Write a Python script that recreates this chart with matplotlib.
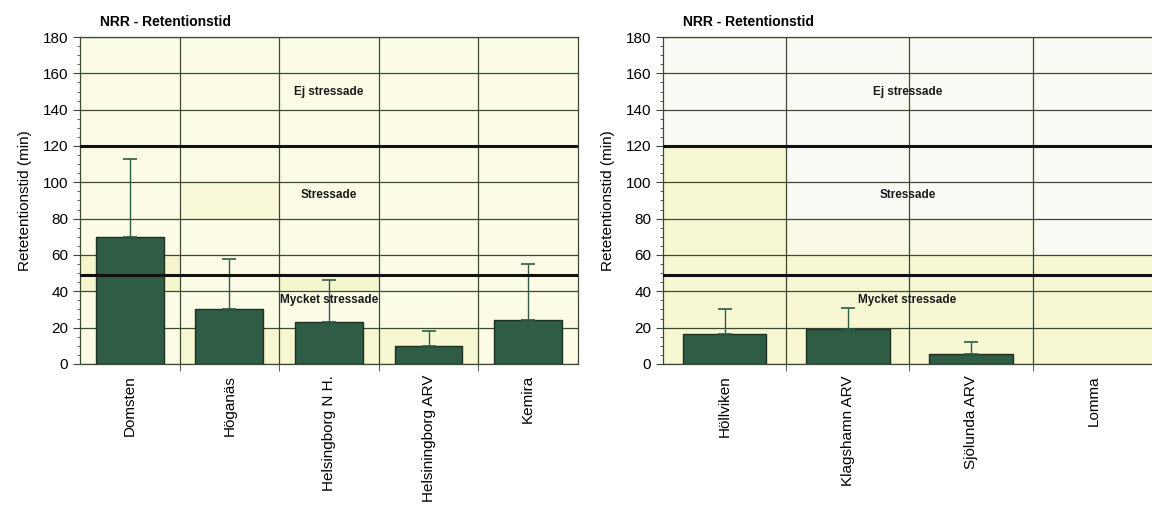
import matplotlib.pyplot as plt
from matplotlib.ticker import MultipleLocator

# Left panel
left_sites = ['Domsten', 'Höganäs', 'Helsingborg N H.', 'Helsiningborg ARV', 'Kemira']
left_values = [70, 30, 23, 10, 24]
left_err = [43, 28, 23, 8, 31]

# Right panel (Lomma has no value)
right_sites = ['Höllviken', 'Klagshamn ARV', 'Sjölunda ARV', 'Lomma']
right_values = [16.5, 19, 5.5, 0]
right_err = [13.5, 12, 6.5, 0]

# Limits between classes (min)
limits = [120, 49]
zones = [(150, 'Ej stressade'), (93, 'Stressade'), (35, 'Mycket stressade')]

bar_color = '#2E5C45'
grid_color = '#3A4A30'

plt.rcParams['font.family'] = ['Liberation Sans', 'DejaVu Sans']

fig = plt.figure(figsize=(11.52, 5.09), dpi=100)
ax1 = fig.add_axes([0.0694, 0.2849, 0.4323, 0.6424])
ax2 = fig.add_axes([0.5755, 0.2849, 0.4245, 0.6424])


def draw_panel(ax, sites, values, err, xmax, backgrounds):
    n = len(sites)
    x = list(range(n))
    for (x0, x1, y0, y1, c) in backgrounds:
        ax.fill_between([x0, x1], y0, y1, color=c, lw=0, zorder=0)
    bx = [i for i in x if values[i] > 0]
    ax.bar(bx, [values[i] for i in bx], width=0.68, color=bar_color,
           edgecolor='#1E2E22', linewidth=1.0, zorder=3)
    ex = [i for i in x if err[i] > 0]
    ax.errorbar(ex, [values[i] for i in ex], yerr=[[0] * len(ex), [err[i] for i in ex]],
                fmt='none', ecolor='#2E5C45', elinewidth=1.0, capsize=5, capthick=1.2,
                zorder=4)
    for lim in limits:
        ax.axhline(lim, color='#111111', lw=2.2, zorder=5)
    ax.set_xlim(-0.5, xmax)
    ax.set_ylim(0, 180)
    ax.yaxis.set_major_locator(MultipleLocator(20))
    ax.yaxis.set_minor_locator(MultipleLocator(5))
    ax.set_xticks(x)
    ax.set_xticklabels(sites, rotation=90, fontsize=11)
    ax.set_xticks([i + 0.5 for i in range(n - 1)], minor=True)
    ax.tick_params(axis='x', which='major', length=0, pad=8)
    ax.tick_params(axis='x', which='minor', length=5, color=grid_color)
    ax.tick_params(axis='y', which='major', labelsize=11, length=5, color=grid_color)
    ax.tick_params(axis='y', which='minor', length=2, color=grid_color)
    ax.grid(axis='y', which='major', color=grid_color, lw=0.9, zorder=1)
    for i in range(n - 1):
        ax.axvline(i + 0.5, color=grid_color, lw=0.9, zorder=1)
    ax.set_axisbelow(True)
    for s in ax.spines.values():
        s.set_color(grid_color)
        s.set_linewidth(0.9)
    ax.set_ylabel('Retetentionstid (min)', fontsize=11, labelpad=8)
    xc = (xmax - 0.5) / 2
    for y, txt in zones:
        ax.text(xc, y, txt, ha='center', va='center', fontsize=8.5,
                fontweight='bold', color='#1A1A1A', zorder=6)
    ax.text(0.04, 1.045, 'NRR - Retentionstid', transform=ax.transAxes,
            fontsize=10, fontweight='bold', ha='left', va='center')


light = '#FCFCE6'
yellow = '#F7F7D4'
white = '#FBFBF6'

left_bg = [(-0.5, 4.5, 0, 180, light),
           (0.5, 1.5, 80, 100, '#F8F8D8'),
           (-0.5, 0.5, 40, 60, '#F6F6CE'),
           (1.5, 2.5, 40, 50, '#F6F6CE'),
           (0.5, 3.5, 0, 20, '#F7F7D2')]
right_bg = [(-0.5, 3.5, 120, 180, white),
            (-0.5, 0.5, 0, 120, yellow),
            (0.5, 3.5, 60, 120, white),
            (0.5, 2.5, 60, 80, '#F9F9E6'),
            (0.5, 3.5, 0, 60, yellow)]

draw_panel(ax1, left_sites, left_values, left_err, 4.5, left_bg)
draw_panel(ax2, right_sites, right_values, right_err, 3.47, right_bg)
ax2.spines['right'].set_visible(False)

fig.savefig('out.png', dpi=100)
